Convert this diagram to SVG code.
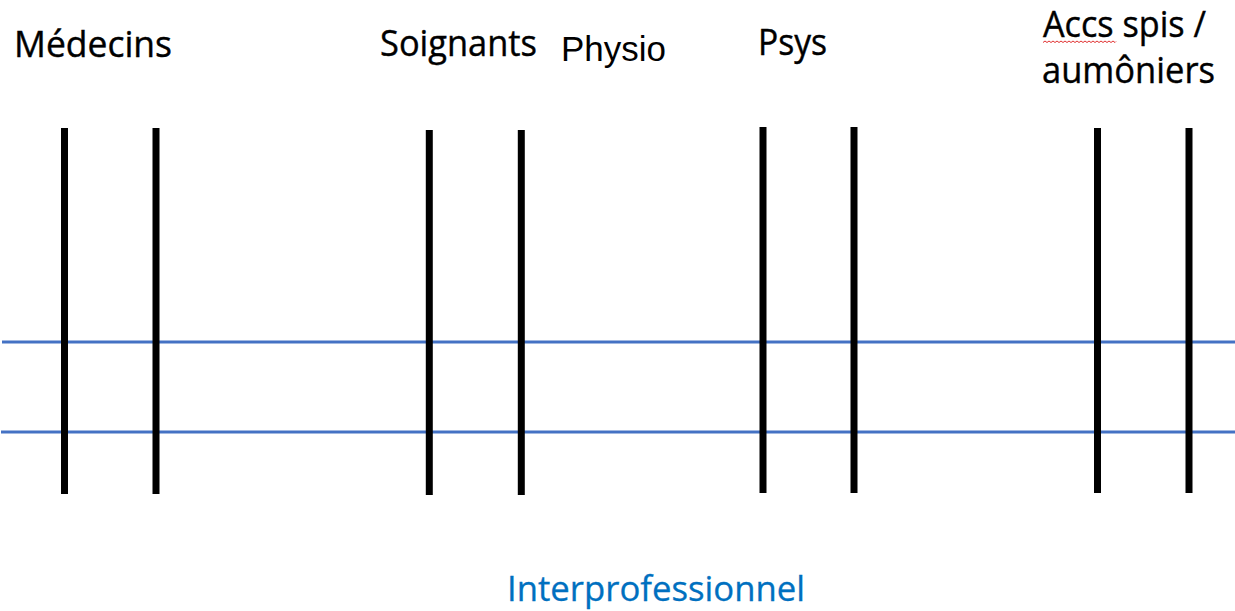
<svg xmlns="http://www.w3.org/2000/svg" width="1235" height="611" viewBox="0 0 1235 611">
  <style>
    .lbl { font-family: "Open Sans", "Noto Sans", sans-serif; font-size: 36px; fill: #000; stroke: #000; stroke-width: 0.4; }
    .arial { font-family: "Liberation Sans", Arial, sans-serif; font-size: 35px; fill: #000; }
    .bar { stroke: #000; stroke-width: 7; }
    .hl { stroke: #4472C4; stroke-width: 3; }
    .foot { font-family: "Open Sans", "Noto Sans", sans-serif; font-size: 35px; fill: #0070C0; stroke: #0070C0; stroke-width: 0.3; }
  </style>
  <rect width="1235" height="611" fill="#fff"/>
  <g id="connectors">
    <line class="hl" x1="2" y1="342" x2="1235" y2="342"/>
    <line class="hl" x1="1" y1="432" x2="1235" y2="432"/>
  </g>
  <g id="medecins">
    <text class="lbl" x="14" y="57" textLength="158" lengthAdjust="spacingAndGlyphs">Médecins</text>
    <line class="bar" x1="64.5" y1="128" x2="64.5" y2="494"/>
    <line class="bar" x1="156" y1="128" x2="156" y2="494"/>
  </g>
  <g id="soignants">
    <text class="lbl" x="380" y="56" textLength="157" lengthAdjust="spacingAndGlyphs">Soignants</text>
    <line class="bar" x1="429.3" y1="130" x2="429.3" y2="495"/>
    <line class="bar" x1="521.3" y1="130" x2="521.3" y2="495"/>
  </g>
  <g id="physio">
    <text class="arial" x="561" y="61" textLength="105" lengthAdjust="spacingAndGlyphs">Physio</text>
  </g>
  <g id="psys">
    <text class="lbl" x="758" y="55" textLength="69" lengthAdjust="spacingAndGlyphs">Psys</text>
    <line class="bar" x1="763" y1="127" x2="763" y2="493"/>
    <line class="bar" x1="854" y1="127" x2="854" y2="493"/>
  </g>
  <g id="accs">
    <text class="lbl" x="1043" y="37" textLength="163" lengthAdjust="spacingAndGlyphs">Accs spis /</text>
    <text class="lbl" x="1042" y="83" textLength="173" lengthAdjust="spacingAndGlyphs">aumôniers</text>
    <path d="M1043 42.5 l2 -1.5 l2 1.5 l2 -1.5 l2 1.5 l2 -1.5 l2 1.5 l2 -1.5 l2 1.5 l2 -1.5 l2 1.5 l2 -1.5 l2 1.5 l2 -1.5 l2 1.5 l2 -1.5 l2 1.5 l2 -1.5 l2 1.5 l2 -1.5 l2 1.5 l2 -1.5 l2 1.5 l2 -1.5 l2 1.5 l2 -1.5 l2 1.5 l2 -1.5 l2 1.5 l2 -1.5 l2 1.5 l2 -1.5 l2 1.5 l2 -1.5 l2 1.5 l2 -1.5 l2 1.5 l1 -1" fill="none" stroke="#E03030" stroke-width="1"/>
    <line class="bar" x1="1097.5" y1="128" x2="1097.5" y2="493"/>
    <line class="bar" x1="1189" y1="128" x2="1189" y2="493"/>
  </g>
  <g id="interprofessionnel">
    <text class="foot" x="507" y="601" textLength="298" lengthAdjust="spacingAndGlyphs">Interprofessionnel</text>
  </g>
</svg>
